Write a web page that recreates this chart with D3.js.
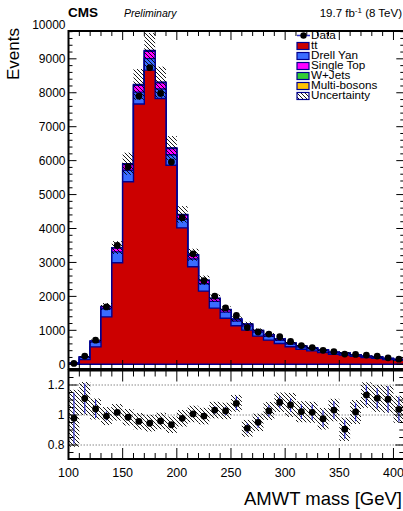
<!DOCTYPE html>
<html><head><meta charset="utf-8">
<script src="https://cdn.jsdelivr.net/npm/d3@7"></script>
<style>
body{margin:0;background:#fff;}
svg{display:block;font-family:"Liberation Sans",Arial,Helvetica,sans-serif;}
</style></head><body>
<svg id="c" width="403" height="511"></svg>
<script>
// ---- data (AMWT mass, 10 GeV bins) ----
const binLow = [100,110,120,130,140,150,160,170,180,190,200,210,220,230,240,250,260,270,280,290,300,310,320,330,340,350,360,370,380,390,400];
const binWidth = 10;
const dataCounts = [25,240,710,1690,3500,5820,7900,8740,7980,5960,4320,3250,2460,2010,1660,1440,1080,950,890,810,670,550,490,410,370,300,290,270,240,190,150];
const ttbar      = [15,138,512,1396,2991,5377,7669,8666,7830,5864,4019,2872,2155,1654,1357,1136,1007,829,711,613,515,441,394,344,294,271,233,195,177,141,119];
const drellYan   = [13,66,140,240,320,340,350,340,280,310,250,230,215,200,180,140,125,120,110,95,80,68,61,53,45,42,36,30,27,22,18];
const singleTop  = [1,8,24,55,110,170,200,215,180,180,130,110,95,80,68,50,44,42,38,32,27,23,20,18,15,14,11,9,8,6,5];
const wJets      = [1,2,4,6,9,12,14,15,12,11,10,8,7,7,6,5,5,4,4,4,3,3,3,3,2,2,2,2,2,1,2];
const multiBosons= [0,2,3,5,8,10,13,13,10,9,8,7,5,5,5,5,4,4,4,3,3,3,3,2,2,2,2,2,2,1,1];
const uncRel     = [0.19,0.11,0.07,0.06,0.055,0.055,0.055,0.055,0.055,0.055,0.055,0.055,0.055,0.055,0.055,0.056,0.056,0.058,0.06,0.065,0.08,0.07,0.07,0.072,0.075,0.078,0.08,0.085,0.09,0.09,0.09];
const ratioVals  = [0.978,1.11,1.04,0.993,1.018,0.985,0.958,0.945,0.96,0.935,0.978,1.007,0.993,1.033,1.027,1.078,0.911,0.951,1.027,1.085,1.067,1.022,1.018,0.975,1.033,0.905,1.02,1.133,1.111,1.105,1.038];
const ratioErr   = [0.17,0.10,0.06,0.03,0.02,0.015,0.012,0.012,0.012,0.015,0.017,0.02,0.022,0.025,0.028,0.045,0.033,0.036,0.038,0.04,0.045,0.048,0.05,0.055,0.058,0.063,0.062,0.065,0.068,0.086,0.083];
const xTickVals = [100,150,200,250,300,350,400];
const yTickVals = [0,1000,2000,3000,4000,5000,6000,7000,8000,9000];
const yTopLabel = 10000;
const ratioTickVals = [0.8,1,1.2];
const seriesNames = ["tt","Drell Yan","Single Top","W+Jets","Multi-bosons"];
const seriesColors = ["#cc0000","#3a6cff","#ff00ff","#33cc33","#ffc400"];

// ---- layout ----
const svg = d3.select("#c");
const L = 68.5, R = 404.3, T = 31, B = 369, RT = 370.5, RB = 459;
const x = d3.scaleLinear().domain([100,410]).range([L,R]);
const y = d3.scaleLinear().domain([-140,9820]).range([B,T]);
const yr = d3.scaleLinear().domain([0.7,1.3]).range([460,370]);
const navy = "#00008f";

const defs = svg.append("defs");
defs.append("pattern").attr("id","hatch").attr("patternUnits","userSpaceOnUse").attr("width",4).attr("height",4)
  .append("path").attr("d","M-1,-1 L5,5 M-1,3 L1,5 M3,-1 L5,1").attr("stroke","#000").attr("stroke-width",0.9);
defs.append("clipPath").attr("id","cm").append("rect").attr("x",L).attr("y",T).attr("width",R-L).attr("height",B-T);
defs.append("clipPath").attr("id","cr").append("rect").attr("x",L).attr("y",RT).attr("width",R-L).attr("height",RB-RT);

// cumulative stacks
const comps = [ttbar,drellYan,singleTop,wJets,multiBosons];
const cum = [];
let run = binLow.map(()=>0);
comps.forEach(c=>{ run = run.map((v,i)=>v+c[i]); cum.push(run.slice()); });
const total = cum[cum.length-1];

const area = d3.area().curve(d3.curveStepAfter).x(d=>x(d.x)).y0(y(0)).y1(d=>y(d.v));
const gm = svg.append("g").attr("clip-path","url(#cm)");
for (let k = cum.length-1; k>=0; k--) {
  const pts = binLow.map((b,i)=>({x:b,v:cum[k][i]}));
  pts.push({x:binLow[binLow.length-1]+binWidth, v:cum[k][cum[k].length-1]});
  gm.append("path").attr("d",area(pts)).attr("fill",seriesColors[k]).attr("stroke",navy).attr("stroke-width",1.4);
}
// uncertainty hatch
gm.selectAll("rect.unc").data(binLow).enter().append("rect")
  .attr("x",d=>x(d)).attr("width",d=>x(d+binWidth)-x(d))
  .attr("y",(d,i)=>y(total[i]*(1+uncRel[i])))
  .attr("height",(d,i)=>y(total[i]*(1-uncRel[i]))-y(total[i]*(1+uncRel[i])))
  .attr("fill","url(#hatch)");
// data points
gm.selectAll("circle.d").data(binLow).enter().append("circle")
  .attr("cx",d=>x(d+binWidth/2)).attr("cy",(d,i)=>y(dataCounts[i])).attr("r",3.4).attr("fill","#000");

// ratio panel
const gr = svg.append("g").attr("clip-path","url(#cr)");
ratioTickVals.forEach(v=>{
  gr.append("line").attr("x1",L).attr("x2",R).attr("y1",yr(v)).attr("y2",yr(v))
    .attr("stroke","#888").attr("stroke-width",1).attr("stroke-dasharray","1.5,1.5");
});
gr.selectAll("rect.ru").data(binLow).enter().append("rect")
  .attr("x",d=>x(d)).attr("width",d=>x(d+binWidth)-x(d))
  .attr("y",(d,i)=>yr(ratioVals[i]+uncRel[i]))
  .attr("height",(d,i)=>yr(ratioVals[i]-uncRel[i])-yr(ratioVals[i]+uncRel[i]))
  .attr("fill","url(#hatch)");
gr.selectAll("line.re").data(binLow).enter().append("line")
  .attr("x1",d=>x(d+binWidth/2)).attr("x2",d=>x(d+binWidth/2))
  .attr("y1",(d,i)=>yr(ratioVals[i]+ratioErr[i])).attr("y2",(d,i)=>yr(ratioVals[i]-ratioErr[i]))
  .attr("stroke","#3030c8").attr("stroke-width",1.2);
gr.selectAll("circle.r").data(binLow).enter().append("circle")
  .attr("cx",d=>x(d+binWidth/2)).attr("cy",(d,i)=>yr(ratioVals[i])).attr("r",3.4).attr("fill","#000");

// frames & ticks
const ax = svg.append("g").attr("stroke","#000");
function frame(t,b){ ax.append("rect").attr("x",L).attr("y",t).attr("width",R-L).attr("height",b-t).attr("fill","none").attr("stroke-width",2); }
frame(T,B); frame(RT,RB);
const xMinor = d3.range(100,411,10);
function xTicks(top,bottom,maj,min){
  xMinor.forEach(v=>{
    const len = (v%50===0)?maj:min;
    ax.append("line").attr("x1",x(v)).attr("x2",x(v)).attr("y1",top).attr("y2",top+len).attr("stroke-width",1);
    ax.append("line").attr("x1",x(v)).attr("x2",x(v)).attr("y1",bottom).attr("y2",bottom-len).attr("stroke-width",1);
  });
}
xTicks(T,B,9,5);
xTicks(RT,RB,11,6);
d3.range(0,9801,200).forEach(v=>{
  const len = (v%1000===0)?8:4;
  ax.append("line").attr("x1",L).attr("x2",L+len).attr("y1",y(v)).attr("y2",y(v)).attr("stroke-width",1);
  ax.append("line").attr("x1",R).attr("x2",R-len).attr("y1",y(v)).attr("y2",y(v)).attr("stroke-width",1);
});
d3.range(0.75,1.3,0.05).forEach(v=>{
  const isMaj = ratioTickVals.some(t=>Math.abs(t-v)<1e-6);
  const len = isMaj?9:5;
  ax.append("line").attr("x1",L).attr("x2",L+len).attr("y1",yr(v)).attr("y2",yr(v)).attr("stroke-width",1);
  ax.append("line").attr("x1",R).attr("x2",R-len).attr("y1",yr(v)).attr("y2",yr(v)).attr("stroke-width",1);
});

// tick labels
const lab = svg.append("g").attr("fill","#000");
yTickVals.concat([yTopLabel]).forEach(v=>{
  lab.append("text").attr("x",L-3).attr("y",y(v)).attr("dy","0.36em").attr("text-anchor","end").attr("font-size",12).text(v);
});
ratioTickVals.forEach(v=>{
  lab.append("text").attr("x",L-4).attr("y",yr(v)).attr("dy","0.36em").attr("text-anchor","end").attr("font-size",12).text(v);
});
xTickVals.forEach(v=>{
  lab.append("text").attr("x",x(v)).attr("y",476.5).attr("text-anchor","middle").attr("font-size",12.5).text(v);
});
lab.append("text").attr("x",402).attr("y",505).attr("text-anchor","end").attr("font-size",18.5).text("AMWT mass [GeV]");
lab.append("text").attr("transform","translate(19,28) rotate(-90)").attr("text-anchor","end").attr("font-size",17).text("Events");

// header
lab.append("text").attr("x",68).attr("y",17).attr("font-size",13.5).attr("font-weight","bold").text("CMS");
lab.append("text").attr("x",124).attr("y",16.5).attr("font-size",10.5).attr("font-style","italic").text("Preliminary");
const lumi = lab.append("text").attr("x",402).attr("y",16.5).attr("text-anchor","end").attr("font-size",11.5);
lumi.append("tspan").text("19.7 fb");
lumi.append("tspan").attr("font-size",8).attr("dy",-4).text("-1");
lumi.append("tspan").attr("dy",4).text(" (8 TeV)");

// legend
const lg = svg.append("g");
const lx = 297, lt = 311;
const baselines = [39,49,59,69,79,89,99];
lg.append("line").attr("x1",lx).attr("x2",lx+13).attr("y1",baselines[0]-3.5).attr("y2",baselines[0]-3.5).attr("stroke","#3030c8").attr("stroke-width",1.5);
lg.append("circle").attr("cx",lx+6.5).attr("cy",baselines[0]-3.5).attr("r",3.2).attr("fill","#000");
lg.append("text").attr("x",lt).attr("y",baselines[0]).attr("font-size",11.7).text("Data");
seriesNames.forEach((n,i)=>{
  const b = baselines[i+1];
  lg.append("rect").attr("x",lx).attr("y",b-6.5).attr("width",12).attr("height",7).attr("fill",seriesColors[i]).attr("stroke",navy).attr("stroke-width",1.2);
  lg.append("text").attr("x",lt).attr("y",b).attr("font-size",11.7).text(n);
});
lg.append("rect").attr("x",lx).attr("y",baselines[6]-6.5).attr("width",12).attr("height",7).attr("fill","url(#hatch)").attr("stroke",navy).attr("stroke-width",1.2);
lg.append("text").attr("x",lt).attr("y",baselines[6]).attr("font-size",11.7).text("Uncertainty");
</script>
</body></html>
